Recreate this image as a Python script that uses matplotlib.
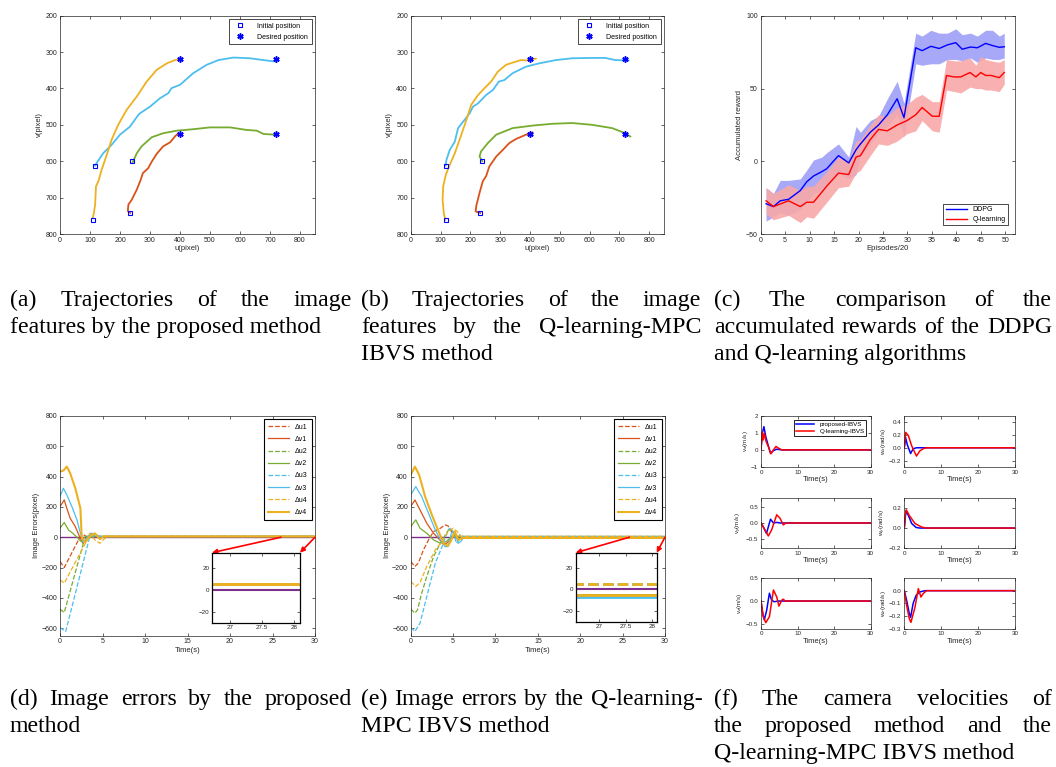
import numpy as np
import matplotlib
matplotlib.use("Agg")
import matplotlib.pyplot as plt

plt.rcParams["font.family"] = ["Liberation Sans", "DejaVu Sans"]

W, H = 1056, 767
fig = plt.figure(figsize=(W / 100, H / 100), dpi=100)

# matlab default colours
C_ORANGE, C_YELLOW, C_PURPLE, C_GREEN = "#D95319", "#EDB120", "#7E2F8E", "#77AC30"
C_CYAN = "#4DBEEE"
GRAY = "#262626"

# ---------------- data: (a) trajectories, proposed method ----------------
a_u1 = [234, 226, 228, 239, 256, 269, 276, 294, 306, 322, 344, 367, 383, 394]
a_v1 = [742, 737, 719, 706, 678, 651, 633, 619, 601, 580, 559, 548, 532, 523]
a_u2 = [241, 256, 272, 306, 344, 389, 444, 500, 567, 622, 656, 678, 717]
a_v2 = [605, 578, 559, 534, 523, 516, 512, 507, 507, 514, 516, 525, 527]
a_u3 = [117, 122, 144, 172, 200, 233, 261, 267, 300, 333, 361, 372, 400, 444, 489, 528, 578, 633, 678, 717]
a_v3 = [612, 605, 578, 555, 527, 505, 473, 468, 450, 427, 413, 399, 390, 358, 335, 322, 315, 317, 322, 326]
a_u4 = [109, 113, 117, 120, 128, 139, 156, 172, 194, 222, 256, 289, 322, 356, 383, 406]
a_v4 = [756, 742, 720, 669, 655, 623, 582, 541, 500, 459, 422, 381, 349, 331, 322, 320]
a_init_u = [109, 117, 234, 241]
a_init_v = [761, 612, 742, 600]

# ---------------- data: (b) trajectories, Q-learning-MPC ----------------
b_u1 = [233, 218, 220, 231, 242, 253, 264, 287, 309, 331, 353, 387, 409]
b_v1 = [742, 738, 723, 687, 655, 641, 614, 587, 569, 550, 539, 527, 521]
b_u2 = [240, 231, 236, 259, 287, 342, 409, 476, 542, 609, 676, 720, 737]
b_v2 = [600, 587, 573, 550, 527, 509, 502, 497, 495, 500, 509, 523, 532]
b_u3 = [117, 120, 131, 148, 159, 181, 198, 209, 226, 253, 276, 296, 314, 342, 387, 431, 487, 542, 609, 653, 687, 731]
b_v3 = [612, 596, 569, 546, 509, 486, 468, 450, 441, 418, 404, 381, 377, 358, 340, 331, 322, 317, 316, 316, 322, 323]
b_u4 = [116, 111, 107, 109, 118, 131, 148, 164, 187, 203, 226, 248, 270, 292, 320, 342, 370, 387, 420]
b_v4 = [761, 742, 705, 669, 637, 610, 578, 541, 486, 445, 418, 399, 381, 354, 335, 329, 322, 323, 318]
b_init_u = [118, 117, 233, 240]
b_init_v = [761, 612, 742, 600]

des_u = [400, 720, 400, 720]
des_v = [320, 320, 525, 525]

# ---------------- data: (c) accumulated reward ----------------
ddpg_x = [1.1, 2.6, 4.0, 5.7, 8.1, 9.4, 10.8, 12.5, 13.5, 15.9, 18.0, 19.5, 20.4, 22.4, 24.1, 25.9,
          27.9, 29.3, 31.7, 33.0, 34.8, 36.5, 38.2, 39.9, 41.2, 42.9, 44.3, 46.0, 47.4, 48.8, 49.8]
ddpg_mean = [-29, -31, -27, -26, -20, -14, -10, -7, -5, 4, -1, 8, 12, 20, 25, 32,
             43, 30, 78, 76, 79, 77.5, 80, 81.5, 77, 78.5, 78, 81, 79.5, 78.3, 78.7]
ddpg_up = [-18, -22, -13, -13, -12, -6, 1, 3, 6, 12, 3, 24, 20, 28, 31, 43,
           55, 40, 88, 86, 90, 88, 88, 91, 87, 88, 86, 90, 90, 86, 88]
ddpg_lo = [-41, -38, -35, -37, -33, -28, -22, -20, -16, -8, -12, -9, 4, 12, 20, 24,
           32, 17, 67, 66, 67, 67, 70, 70, 69, 71, 68, 71, 70, 70, 71]
ql_x = [1.1, 2.6, 5.7, 8.1, 9.4, 10.8, 13.5, 15.9, 18.0, 19.5, 20.4, 22.4, 24.1, 25.9, 27.9,
        29.9, 31.7, 33.0, 35.1, 36.5, 38.0, 39.5, 40.9, 42.8, 44.0, 45.0, 46.0, 47.1, 48.8, 49.8]
ql_mean = [-27, -31, -27, -31, -28, -28, -17, -8, -9, 3, 4, 15, 22, 21, 25,
           28, 32, 37, 31, 31, 59, 58, 58, 61, 58, 61, 59, 59, 57.5, 61]
ql_up = [-18, -22, -16, -20, -17, -17, -7, 3, 0, 14, 15, 25, 32, 31, 37,
         39, 44, 46, 41, 41, 70, 69, 69, 71, 66, 72, 70, 69, 68, 70]
ql_lo = [-36, -40, -37, -42, -38, -39, -28, -18, -17, -8, -6, 4, 12, 11, 14,
         19, 21, 28, 21, 20, 49, 48, 47, 51, 50, 50, 49, 49, 48, 53]

# ---------------- data: (d) image errors, proposed ----------------
d_err = {
    "Δu1": ([0, 0.5, 2.2, 2.7, 3.1, 3.6, 4.2, 30], [-160, -200, -15, 18, 5, 8, 5, 5]),
    "Δv1": ([0, 0.5, 0.8, 1.2, 1.8, 2.3, 2.7, 3.1, 3.5, 4.1, 30], [202, 246, 191, 125, 70, 4, -40, -7, 9, 5, 5]),
    "Δu2": ([0, 0.5, 2.75, 3.3, 3.8, 30], [-475, -497, -40, -7, 5, 5]),
    "Δv2": ([0, 0.5, 1.0, 1.5, 2.0, 2.5, 3.0, 30], [60, 97, 48, 26, 0, -29, 5, 5]),
    "Δu3": ([0, 0.67, 3.5, 4.0, 4.5, 30], [-596, -622, 4, 10, 5, 5]),
    "Δv3": ([0, 0.4, 0.8, 1.4, 2.0, 2.4, 2.75, 3.6, 4.1, 4.7, 30], [268, 323, 279, 202, 114, 26, -35, 26, 22, 4, 5]),
    "Δu4": ([0, 0.5, 3.1, 3.5, 4.1, 4.7, 5.5, 30], [-281, -303, -29, 26, -18, -40, 5, 5]),
    "Δv4": ([0, 0.4, 0.8, 1.2, 1.8, 2.4, 2.55, 2.95, 3.5, 4.1, 4.7, 5.1, 30],
            [433, 440, 466, 422, 323, 191, 4, -35, 4, 26, -13, 5, 5]),
}

# ---------------- data: (e) image errors, Q-learning-MPC ----------------
e_err = {
    "Δu1": ([0, 0.5, 0.9, 1.5, 2.1, 2.7, 3.5, 4.05, 4.4, 4.8, 5.2, 5.6, 6.0, 30],
            [-160, -193, -171, -84, -18, 37, 59, 81, 75, 37, 9, 15, 5, 5]),
    "Δv1": ([0, 0.5, 1.1, 1.9, 2.7, 3.5, 3.85, 4.25, 4.8, 5.2, 5.8, 6.2, 30],
            [202, 246, 180, 92, 26, -22, -44, -40, -7, 15, -13, -5, -5]),
    "Δu2": ([0, 0.5, 0.8, 1.3, 1.9, 2.7, 3.5, 4.2, 4.6, 5.0, 5.4, 5.8, 6.2, 30],
            [-475, -501, -479, -369, -259, -127, -40, 26, 59, 37, -13, 15, 5, 5]),
    "Δv2": ([0, 0.6, 1.1, 1.9, 2.7, 3.5, 4.2, 4.8, 5.2, 5.6, 6.2, 30],
            [70, 114, 59, 26, -18, -40, -29, 4, 26, -7, -5, -5]),
    "Δu3": ([0, 0.5, 1.1, 1.9, 2.9, 3.7, 4.2, 4.6, 5.0, 5.4, 5.7, 6.1, 30],
            [-596, -622, -567, -391, -171, -62, 15, 59, 37, -40, -18, 5, 5]),
    "Δv3": ([0, 0.6, 1.3, 2.1, 2.9, 3.5, 4.05, 4.4, 4.8, 5.2, 5.6, 5.9, 6.2, 30],
            [279, 334, 268, 158, 48, -18, -62, -62, 26, 37, -40, -29, -7, -7]),
    "Δu4": ([0, 0.6, 1.1, 1.9, 2.9, 3.85, 4.4, 5.0, 5.5, 5.9, 30],
            [-292, -325, -299, -193, -84, -18, 37, 59, 37, 5, 5]),
    "Δv4": ([0, 0.5, 1.0, 1.7, 2.5, 3.3, 3.9, 4.4, 4.8, 5.2, 5.6, 6.1, 30],
            [411, 466, 411, 268, 147, 37, -44, -57, -18, 37, -18, -5, -5]),
}
err_colors = [C_ORANGE, C_ORANGE, C_GREEN, C_GREEN, C_CYAN, C_CYAN, C_YELLOW, C_YELLOW]

# ---------------- data: (f) camera velocities ----------------
vel = [
    ("v$_x$(m/s)", (-1, 2), [-1, 0, 1, 2],
     ([0, 0.35, 0.8, 1.3, 1.8, 2.6, 3.4, 4.3, 5.7, 30], [0, 0.97, 1.36, 0.78, 0.39, -0.2, -0.04, 0.04, 0, 0]),
     ([0, 0.3, 0.6, 0.9, 1.4, 2.0, 2.7, 3.4, 4.1, 4.8, 5.7, 6.5, 30], [0, 1.07, 0.58, 0.97, 0.49, 0.2, -0.23, 0, 0.2, 0.1, 0, 0, 0])),
    ("w$_x$(rad/s)", (-0.3, 0.5), [-0.2, 0, 0.2, 0.4],
     ([0, 0.35, 0.8, 1.7, 2.4, 3.3, 30], [0, 0.16, 0.05, -0.09, -0.016, 0, 0]),
     ([0, 0.36, 1.1, 2.0, 3.3, 4.2, 5.3, 6.0, 30], [0, 0.24, 0.19, 0.03, -0.13, -0.05, -0.01, 0, 0])),
    ("v$_y$(m/s)", (-0.8, 0.8), [-0.5, 0, 0.5],
     ([0, 0.6, 1.5, 2.6, 3.4, 4.3, 5.2, 30], [0, -0.12, -0.33, 0.12, 0, 0.02, 0, 0]),
     ([0, 1.1, 2.0, 2.9, 4.3, 5.2, 6.1, 6.8, 30], [0, -0.22, -0.41, -0.22, 0.26, 0.15, -0.06, 0, 0])),
    ("w$_y$(rad/s)", (-0.2, 0.3), [-0.2, 0, 0.2],
     ([0, 0.45, 1.1, 2.0, 3.2, 4.2, 30], [0, 0.17, 0.125, 0.045, 0.006, 0, 0]),
     ([0, 0.27, 0.54, 1.35, 2.9, 4.7, 6.0, 30], [0, 0.125, 0.18, 0.125, 0.045, 0.01, 0, 0])),
    ("v$_z$(m/s)", (-0.6, 0.5), [-0.5, 0, 0.5],
     ([0, 0.45, 0.9, 1.55, 2.3, 2.9, 3.6, 4.7, 30], [0, -0.27, -0.41, -0.2, 0.17, 0.02, -0.015, 0, 0]),
     ([0, 0.65, 1.3, 2.3, 3.4, 4.3, 4.9, 5.7, 6.1, 6.6, 30], [0, -0.34, -0.47, -0.34, 0.24, 0.09, -0.11, 0.02, 0.04, 0, 0])),
    ("w$_z$(rad/s)", (-0.3, 0.1), [-0.3, -0.2, -0.1, 0],
     ([0, 0.63, 1.35, 1.7, 2.4, 3.2, 4.2, 5.6, 30], [0, -0.076, -0.18, -0.21, -0.1, -0.037, -0.01, 0, 0]),
     ([0, 0.63, 1.35, 1.8, 2.9, 3.8, 4.5, 5.1, 6.0, 30], [0, -0.116, -0.22, -0.25, -0.13, 0.016, -0.05, -0.024, 0, 0])),
]


def add_ax(l, t, r, b):
    return fig.add_axes([l / W, 1 - b / H, (r - l) / W, (b - t) / H])


def matlab(ax, fs=5):
    ax.tick_params(direction="in", top=True, right=True, labelsize=fs, length=2,
                   width=0.5, colors=GRAY, pad=2)
    for s in ax.spines.values():
        s.set_linewidth(0.5)
        s.set_color(GRAY)


# ---------------- (a) and (b) ----------------
for (l, r), trajs, iu, iv in [
        ((60, 315), [(a_u1, a_v1), (a_u2, a_v2), (a_u3, a_v3), (a_u4, a_v4)], a_init_u, a_init_v),
        ((410.7, 664), [(b_u1, b_v1), (b_u2, b_v2), (b_u3, b_v3), (b_u4, b_v4)], b_init_u, b_init_v)]:
    ax = add_ax(l, 15.7, r, 234)
    for (u, v), c in zip(trajs, [C_ORANGE, C_GREEN, C_CYAN, C_YELLOW]):
        ax.plot(u, v, color=c, lw=1.3)
    ax.plot(iu, iv, "s", mfc="none", mec="blue", ms=3.5, mew=0.8, ls="none", label="Initial position")
    ax.plot(des_u, des_v, marker=(6, 2, 0), color="blue", ms=4.5, mew=1.1, ls="none", label="Desired position")
    ax.set_xlim(0, 850)
    ax.set_ylim(800, 200)
    ax.set_xticks(range(0, 801, 100))
    ax.set_yticks(range(200, 801, 100))
    ax.set_xlabel("u(pixel)", fontsize=5.5, color=GRAY, labelpad=1)
    ax.set_ylabel("v(pixel)", fontsize=5.5, color=GRAY, labelpad=2)
    matlab(ax)
    leg = ax.legend(loc="upper right", fontsize=5, fancybox=False, framealpha=1,
                    edgecolor="black", borderpad=0.5, handletextpad=1.5, labelspacing=0.6)
    leg.get_frame().set_linewidth(0.5)

# ---------------- (c) ----------------
ax = add_ax(760.7, 15.7, 1015, 234.3)
ax.fill_between(ddpg_x, ddpg_lo, ddpg_up, color="#A8A8F8", lw=0)
ax.fill_between(ql_x, ql_lo, ql_up, color="#F8A8A8", alpha=0.9, lw=0)
ax.plot(ddpg_x, ddpg_mean, color="blue", lw=1, label="DDPG")
ax.plot(ql_x, ql_mean, color="red", lw=1, label="Q-learning")
ax.set_xlim(0, 52)
ax.set_ylim(-50, 100)
ax.set_xticks(range(0, 51, 5))
ax.set_yticks([-50, 0, 50, 100])
ax.set_xlabel("Episodes/20", fontsize=5.5, color=GRAY, labelpad=1)
ax.set_ylabel("Accumulated reward", fontsize=5.5, color=GRAY, labelpad=2)
matlab(ax)
leg = ax.legend(loc="lower right", fontsize=5, fancybox=False, framealpha=1,
                edgecolor="black", handlelength=3, borderpad=0.35, labelspacing=0.4,
                bbox_to_anchor=(0.985, 0.025))
leg.get_frame().set_linewidth(0.5)

# ---------------- (d) and (e) ----------------
for (l, r), errs, ins_box, ins_xlim, arrow_x in [
        ((60, 315), d_err, (212, 552.7, 300, 622.7), (26.72, 28.09), 26.0),
        ((410.7, 665), e_err, (575.7, 552.7, 656.7, 621.7), (26.56, 28.08), 25.8)]:
    ax = add_ax(l, 416, r, 635.7)
    ax.axhline(0, color=C_PURPLE, lw=1)
    axins = add_ax(*ins_box)
    axins.axhline(0, color=C_PURPLE, lw=1.5)
    for (name, (t, e)), c in zip(errs.items(), err_colors):
        ls = "--" if "u" in name else "-"
        lw = 1.5 if name == "Δv4" else 0.9
        ax.plot(t, e, color=c, ls=ls, lw=lw, label=name)
        axins.plot(t, e, color=c, ls=ls, lw=2)
    ax.set_xlim(0, 30)
    ax.set_ylim(-650, 800)
    ax.set_yticks(range(-600, 801, 200))
    ax.set_xticks(range(0, 31, 5))
    ax.set_xlabel("Time(s)", fontsize=5.5, color=GRAY, labelpad=1)
    ax.set_ylabel("Image Errors(pixel)", fontsize=5.5, color=GRAY, labelpad=1)
    matlab(ax)
    leg = ax.legend(loc="upper right", fontsize=5, fancybox=False, framealpha=1,
                    edgecolor="black", handlelength=3, labelspacing=0.75,
                    borderpad=0.6)
    leg.get_frame().set_linewidth(0.8)
    axins.set_xlim(*ins_xlim)
    axins.set_ylim(-30, 34)
    axins.set_xticks([27, 27.5, 28])
    axins.set_xticklabels(["27", "27.5", "28"])
    axins.set_yticks([-20, 0, 20])
    matlab(axins, fs=4.5)
    for s in axins.spines.values():
        s.set_linewidth(0.9)
        s.set_color("black")
    for xa, ya in [(arrow_x, (0, 1)), (30, (1, 1))]:
        ax.annotate("", xy=ya, xycoords=axins.transAxes, xytext=(xa, 0),
                    textcoords=ax.transData,
                    arrowprops=dict(arrowstyle="-|>", color="red", lw=1.2,
                                    mutation_scale=7, shrinkA=0, shrinkB=0))

# ---------------- (f) ----------------
rows = [(415.7, 467), (497.7, 548.3), (578, 628.7)]
cols = [(761, 870.7), (904.3, 1015)]
for i, (ylab, ylim, yt, prop, ql) in enumerate(vel):
    t, b = rows[i // 2]
    l, r = cols[i % 2]
    ax = add_ax(l, t, r, b)
    ax.plot(prop[0], prop[1], color="blue", lw=1.1, label="proposed-IBVS")
    ax.plot(ql[0], ql[1], color="red", lw=1.1, label="Q-learning-IBVS")
    ax.set_xlim(0, 30)
    ax.set_ylim(*ylim)
    ax.set_yticks(yt)
    ax.set_xticks([0, 10, 20, 30])
    ax.set_xlabel("Time(s)", fontsize=5.5, color=GRAY, labelpad=1)
    ax.set_ylabel(ylab, fontsize=4.5, color=GRAY, labelpad=1)
    matlab(ax, fs=4.5)
    if i == 0:
        leg = ax.legend(loc="upper right", fontsize=4.5, fancybox=False, framealpha=1,
                        edgecolor="black", handlelength=3, borderpad=0.3,
                        labelspacing=0.2, bbox_to_anchor=(0.99, 0.98))
        leg.get_frame().set_linewidth(0.6)

# ---------------- captions ----------------
cap_fs = 17.2
cap_font = "Liberation Serif"
captions = [
    ((10, 352), 306, [("(a) Trajectories of the image", True),
                      ("features by the proposed method", False)]),
    ((361, 701), 306, [("(b) Trajectories of the image", True),
                       ("features by the Q-learning-MPC", True),
                       ("IBVS method", False)]),
    ((714, 1052), 306, [("(c) The comparison of the", True),
                        ("accumulated rewards of the DDPG", True),
                        ("and Q-learning algorithms", False)]),
    ((10, 352), 705, [("(d) Image errors by the proposed", True),
                      ("method", False)]),
    ((361, 703), 705, [("(e) Image errors by the Q-learning-", True),
                       ("MPC IBVS method", False)]),
    ((714, 1052), 705, [("(f) The camera velocities of", True),
                        ("the proposed method and the", True),
                        ("Q-learning-MPC IBVS method", False)]),
]
renderer = fig.canvas.get_renderer()
for (x0, x1), y0, lines in captions:
    for k, (line, just) in enumerate(lines):
        y = 1 - (y0 + k * 26.8) / H
        if not just:
            fig.text(x0 / W, y, line, fontsize=cap_fs, family=cap_font, va="baseline")
            continue
        words = line.split(" ")
        texts = [fig.text(0, y, w, fontsize=cap_fs, family=cap_font, va="baseline") for w in words]
        widths = [tx.get_window_extent(renderer).width for tx in texts]
        gap = ((x1 - x0) - sum(widths)) / (len(words) - 1)
        x = x0
        for tx, w in zip(texts, widths):
            tx.set_x(x / W)
            x += w + gap

fig.savefig("out.png", dpi=100)
